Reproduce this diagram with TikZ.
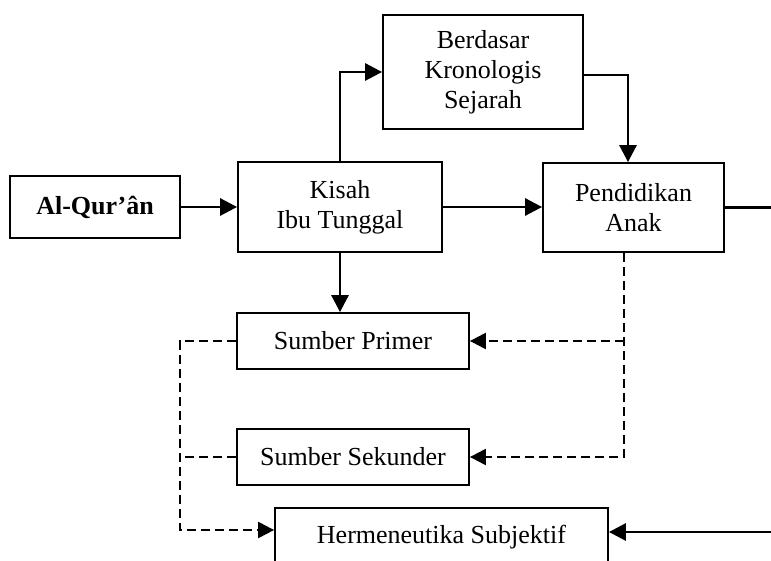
\documentclass[tikz,border=0pt]{standalone}
\usepackage{fontspec}
\setmainfont{Liberation Serif}
\usetikzlibrary{arrows.meta}

\begin{document}
\begin{tikzpicture}[x=0.5pt,y=-0.5pt,
    font=\fontsize{13}{15}\selectfont,
    box/.style={draw,line width=0.9pt,align=center,inner sep=0pt},
    flow/.style={line width=1.4pt,-{Triangle[length=8.5pt,width=8.5pt]}},
    dflow/.style={line width=1.1pt,dash pattern=on 4.5pt off 2.5pt,-{Triangle[length=8pt,width=8pt]}}]
        %% Frame
        \path[use as bounding box,clip] (0,0) rectangle (771,561);
        %% Boxes
        \node[box,minimum width=85pt,minimum height=31pt] (quran) at (95,207) {\textbf{Al-Qur'ân}};
        \node[box,minimum width=102pt,minimum height=45pt] (kisah) at (340,207) {Kisah\\Ibu Tunggal};
        \node[box,minimum width=100pt,minimum height=57pt] (berdasar) at (483,72) {Berdasar\\Kronologis\\Sejarah};
        \node[box,minimum width=90.5pt,minimum height=44.5pt] (pendidikan) at (633.5,207.5) {Pendidikan\\Anak};
        \node[box,minimum width=116pt,minimum height=28pt] (primer) at (353,341) {Sumber Primer};
        \node[box,minimum width=116pt,minimum height=28pt] (sekunder) at (353,457) {Sumber Sekunder};
        \node[box,minimum width=166.5pt,minimum height=29pt] (herm) at (441.5,537) {Hermeneutika Subjektif};
        %% Rails and corners
        \coordinate (rail) at (790,0);
        \coordinate (drop) at (628,0);
        \coordinate (split) at (624,459);
        \coordinate (lrail) at (180,0);
        \coordinate (hin) at ([yshift=2.5pt]herm.east);
        \coordinate (hdin) at ([yshift=3.5pt]herm.west);
        \coordinate (bout) at ([yshift=-1.5pt]berdasar.east);
        %% Solid flow
        \draw[flow] (quran) -- (kisah);
        \draw[flow] (kisah.north) |- (berdasar.west);
        \draw[flow] (kisah.east) -- (kisah.east -| pendidikan.west);
        \draw[flow] (bout) -| (pendidikan.north -| drop);
        \draw[flow] (kisah.south) -- (kisah.south |- primer.north);
        \draw[flow] (pendidikan.east) -- (pendidikan.east -| rail) -- (rail |- hin) -- (hin);
        %% Dashed flow
        \draw[dflow] (pendidikan.south -| split) -- (split |- sekunder.east) -- (sekunder.east);
        \draw[dflow] (split |- primer.east) -- (primer.east);
        \draw[dflow] (primer.west) -- (primer.west -| lrail) -- (lrail |- hdin) -- (hdin);
        \draw[dflow,-] (sekunder.west) -- (sekunder.west -| lrail);
    \end{tikzpicture}
\end{document}
